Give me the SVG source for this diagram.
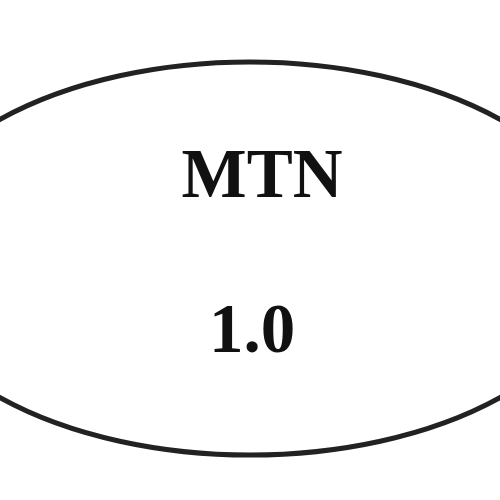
<svg xmlns="http://www.w3.org/2000/svg" width="500" height="500" viewBox="0 0 500 500">
  <style>
    .node ellipse { fill: #ffffff; stroke: #222222; stroke-width: 5; }
    .node text { font-family: "Liberation Serif", "Times New Roman", serif; font-weight: bold; font-size: 69px; fill: #111111; text-anchor: middle; }
  </style>
  <rect width="500" height="500" fill="#ffffff"/>
  <g id="connectors"></g>
  <g id="node-MTN" class="node">
    <ellipse cx="250" cy="258.5" rx="354" ry="196.5"/>
    <text x="262" y="197">MTN</text>
    <text x="252" y="352">1.0</text>
  </g>
</svg>
